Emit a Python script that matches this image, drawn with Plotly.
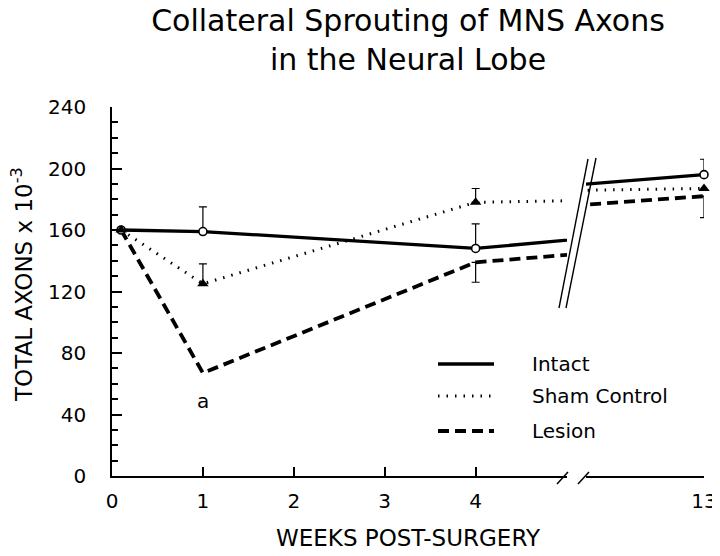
import plotly.graph_objects as go

# ---------------- data ----------------
weeks = [0.1, 1, 4, 13]
week_ticks_left = [0, 1, 2, 3, 4]
week_ticks_right = [13]
series_names = ["Intact", "Sham Control", "Lesion"]
intact = [160, 159, 148, 196]
sham = [160, 125, 178, 187]
lesion = [160, 67, 139, 182]
intact_err_up = [None, 16, 16, 10]
intact_err_down = [None, None, None, None]
sham_err_up = [None, 13, 9, None]
sham_err_down = [None, None, None, None]
lesion_err_up = [None, None, None, None]
lesion_err_down = [None, None, 13, 14]
y_ticks = [0, 40, 80, 120, 160, 200, 240]
note_week = 1
note_value = 49
note_text = "a"

FONT = "DejaVu Sans"


def err(a):
    return ["NaN" if v is None else v for v in a]


styles = {
    "Intact": dict(line=dict(color="black", width=3.3, dash="solid"),
                   mode="lines+markers",
                   marker=dict(symbol="circle", size=8, color="white",
                               line=dict(color="black", width=1.6))),
    "Sham Control": dict(line=dict(color="black", width=3, dash="1.5px,7px"),
                         mode="lines+markers",
                         marker=dict(symbol="triangle-up", size=10, color="black")),
    "Lesion": dict(line=dict(color="black", width=3.8, dash="11px,6px"),
                   mode="lines"),
}

series = {
    "Intact": (intact, intact_err_up, intact_err_down),
    "Sham Control": (sham, sham_err_up, sham_err_down),
    "Lesion": (lesion, lesion_err_up, lesion_err_down),
}

fig = go.Figure()
for name in ["Lesion", "Intact", "Sham Control"]:
    vals, up, down = series[name]
    st = styles[name]
    for ax in ["x", "x2"]:
        kw = dict(x=weeks, y=vals, name=name, xaxis=ax, yaxis="y",
                  mode=st["mode"], line=st["line"], showlegend=False,
                  cliponaxis=False,
                  error_y=dict(type="data", symmetric=False, array=err(up),
                               arrayminus=err(down), color="black",
                               thickness=1.2, width=4))
        if "marker" in st:
            kw["marker"] = st["marker"]
        fig.add_trace(go.Scatter(**kw))

# ---------------- layout ----------------
# the page body adds an 8px offset; the figure is sized to fill the rest
OFF = 8
W, H = 720 - OFF, 556 - OFF
L, R, T, B = 112 - OFF, 16, 107 - OFF, 80
PW = W - L - R
PH = H - T - B


def px(xp):  # page x pixel -> paper fraction
    return (xp - OFF - L) / PW


def py(yp):  # page y pixel -> paper fraction
    return (H - B - (yp - OFF)) / PH


axis_common = dict(showline=True, linecolor="black", linewidth=1.5,
                   ticks="inside", tickcolor="black", tickwidth=1.5,
                   showgrid=False, zeroline=False, automargin=False,
                   tickfont=dict(family=FONT, size=20, color="black"))

fig.update_layout(
    width=W, height=H,
    margin=dict(l=L, r=R, t=T, b=B, autoexpand=False),
    paper_bgcolor="white", plot_bgcolor="white",
    showlegend=False,
    font=dict(family=FONT, color="black"),
    title=dict(text="Collateral Sprouting of MNS Axons<br>in the Neural Lobe",
               x=0.5, xref="paper", xanchor="center",
               y=1 - 23 / H, yref="container", yanchor="top",
               font=dict(family=FONT, size=30, color="black")),
    xaxis=dict(domain=[0, px(567)], range=[0, 5.005], anchor="y",
               tickvals=week_ticks_left, ticklen=9, ticklabelstandoff=6,
               **axis_common),
    xaxis2=dict(domain=[px(586), 1], range=[11.85, 13], anchor="y",
                tickvals=week_ticks_right, ticklen=9, ticklabelstandoff=6,
                **axis_common),
    yaxis=dict(domain=[0, 1], range=[0, 240], tickvals=y_ticks, ticklen=10,
               ticklabelstandoff=20,
               minor=dict(dtick=10, ticks="inside", ticklen=6, tickwidth=1.5,
                          tickcolor="black", showgrid=False),
               **axis_common),
)

# y axis title
fig.add_annotation(text="TOTAL AXONS x 10<sup>-3</sup>", xref="paper", yref="paper",
                   x=px(22), y=py(285), xanchor="center", yanchor="middle",
                   textangle=-90, showarrow=False,
                   font=dict(family=FONT, size=23, color="black"))

# x axis title (spans both broken segments)
fig.add_annotation(text="WEEKS POST-SURGERY", xref="paper", yref="paper",
                   x=0.5, y=py(538), xanchor="center", yanchor="middle",
                   showarrow=False, font=dict(family=FONT, size=23, color="black"))

# significance note
fig.add_annotation(text=note_text, xref="x", yref="y", x=note_week, y=note_value,
                   showarrow=False, font=dict(family=FONT, size=20, color="black"))

# axis break marks on the x axis
for x0, x1 in [(557, 568), (578, 589)]:
    fig.add_shape(type="line", xref="paper", yref="paper",
                  x0=px(x0), y0=py(484), x1=px(x1), y1=py(472),
                  line=dict(color="black", width=1.5))

# break marks across the plotted lines
for (x0, y0, x1, y1) in [(559, 308, 588, 159), (566, 308, 596, 158)]:
    fig.add_shape(type="line", xref="paper", yref="paper",
                  x0=px(x0), y0=py(y0), x1=px(x1), y1=py(y1),
                  line=dict(color="black", width=1.4))

# legend (drawn manually to match the reference key)
legend_rows = [364, 396, 431]
for name, row in zip(series_names, legend_rows):
    st = styles[name]
    fig.add_shape(type="line", xref="paper", yref="paper",
                  x0=px(438), x1=px(494), y0=py(row), y1=py(row),
                  line=st["line"])
    fig.add_annotation(text=name, xref="paper", yref="paper",
                       x=px(530), y=py(row), xanchor="left", yanchor="middle",
                       showarrow=False,
                       font=dict(family=FONT, size=20, color="black"))

fig.write_html("out.html")
